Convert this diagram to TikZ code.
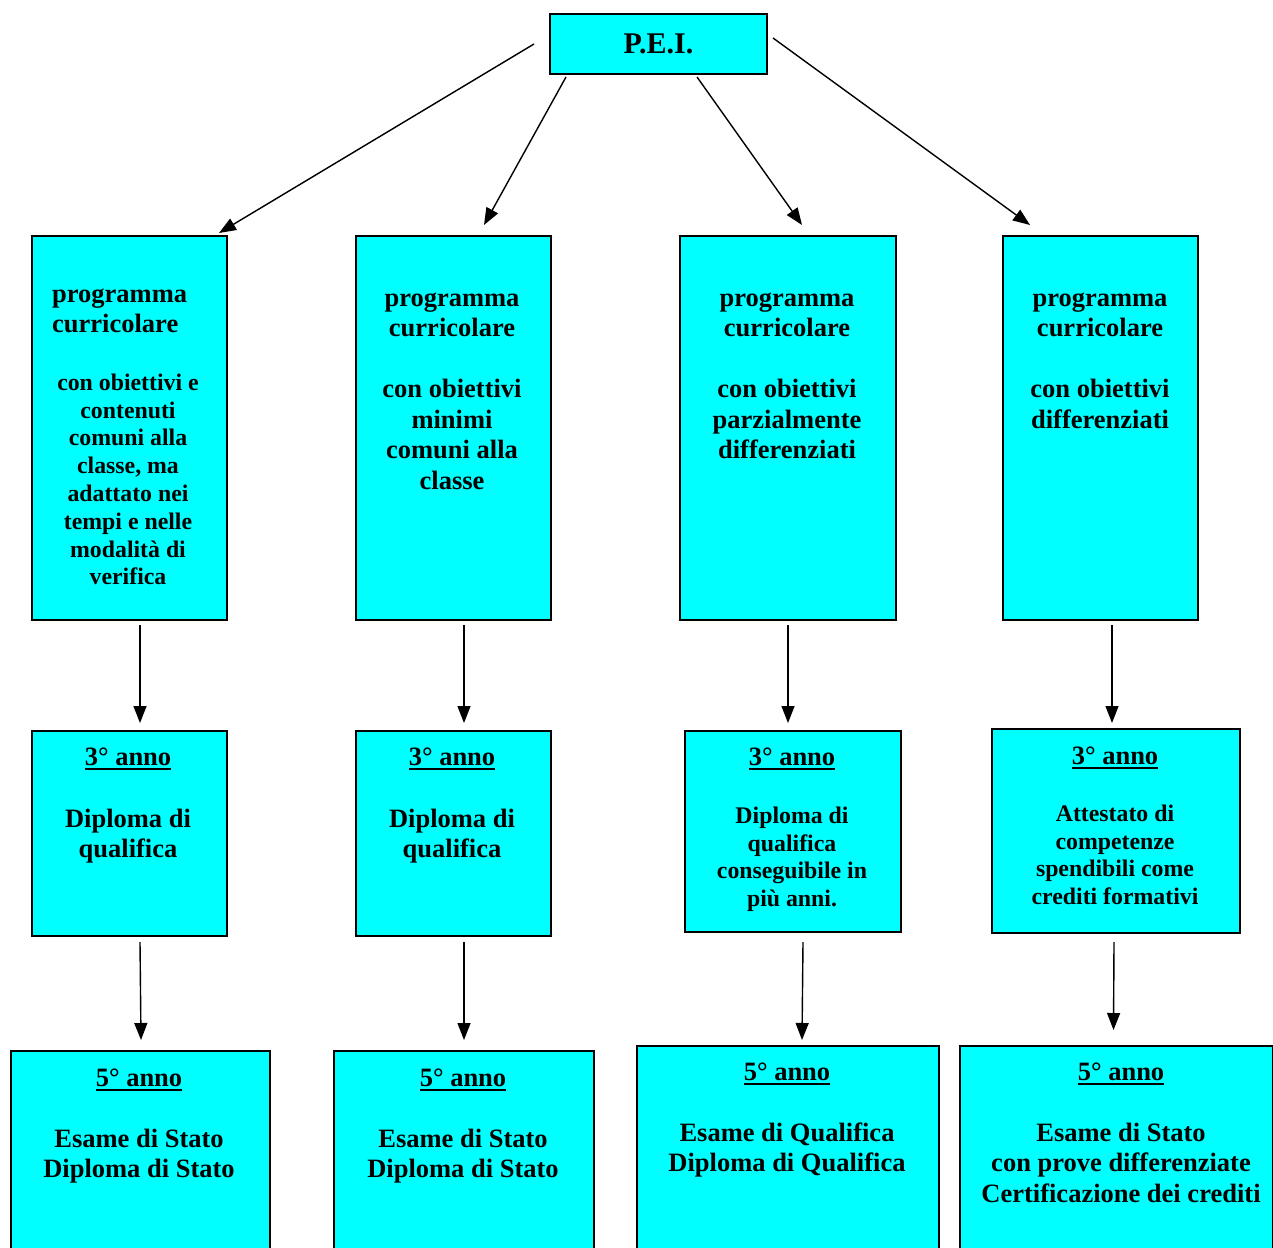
\documentclass[tikz,border=0pt]{standalone}
\usepackage{fontspec}
\setmainfont{Liberation Serif}
\usetikzlibrary{arrows.meta,calc}
\definecolor{aqua}{RGB}{0,255,255}
\newsavebox\annobox
\newcommand\annoul[1]{\sbox\annobox{#1}\makebox[0pt][l]{\rule[-4.5pt]{\wd\annobox}{2.2pt}}\usebox\annobox}
\newcommand\fsb{\rule{0pt}{24pt}}
\newcommand\fss{\rule{0pt}{22pt}}
\tikzset{
  box/.style={draw=black, line width=2pt, fill=aqua, rectangle, inner sep=0pt, anchor=north west},
  big/.style={font=\bfseries\fontsize{26.5}{30.5}\selectfont, align=center, inner sep=0pt, anchor=north, yshift=24pt},
  small/.style={font=\bfseries\fontsize{23.8}{27.8}\selectfont, align=center, inner sep=0pt, anchor=north, yshift=22pt},
  arr/.style={-{Triangle[length=17pt,width=13pt]}, line width=1.4pt},
}
\begin{document}
\begin{tikzpicture}[x=1pt,y=-1pt]
\useasboundingbox (0,0) rectangle (1273,1247);
\clip (0,0) rectangle (1273,1247);
% top
\node[box, minimum width=217, minimum height=60, font=\bfseries\fontsize{30}{34}\selectfont] (pei) at (549,13) {P.E.I.};
% row 1
\node[box, minimum width=195, minimum height=384] (b1) at (31,235) {};
\node[box, minimum width=195, minimum height=384] (b2) at (355,235) {};
\node[box, minimum width=216, minimum height=384] (b3) at (679,235) {};
\node[box, minimum width=195, minimum height=384] (b4) at (1002,235) {};
% row 2
\node[box, minimum width=195, minimum height=205] (c1) at (31,730) {};
\node[box, minimum width=195, minimum height=205] (c2) at (355,730) {};
\node[box, minimum width=216, minimum height=201] (c3) at (684,730) {};
\node[box, minimum width=248, minimum height=204] (c4) at (991,728) {};
% row 3
\node[box, minimum width=259, minimum height=260] (d1) at (10,1050) {};
\node[box, minimum width=260, minimum height=260] (d2) at (333,1050) {};
\node[box, minimum width=302, minimum height=260] (d3) at (636,1045) {};
\node[box, minimum width=313, minimum height=260] (d4) at (959,1045) {};
% texts row 1
\node[big, anchor=north west, align=left] (t1a) at (52,302) {\fsb programma\\curricolare};
\node[small] (t1b) at (128,390) {\fss con obiettivi e\\contenuti\\comuni alla\\classe, ma\\adattato nei\\tempi e nelle\\modalità di\\verifica};
\node[big] (t2) at (452,306) {\fsb programma\\curricolare\\[30.5pt]con obiettivi\\minimi\\comuni alla\\classe};
\node[big] (t3) at (787,306) {\fsb programma\\curricolare\\[30.5pt]con obiettivi\\parzialmente\\differenziati};
\node[big] (t4) at (1100,306) {\fsb programma\\curricolare\\[30.5pt]con obiettivi\\differenziati};
% texts row 2
\node[big] (h1) at (128,765) {\fsb\annoul{3° anno}};
\node[big] (u1) at (128,827) {\fsb Diploma di\\qualifica};
\node[big] (h2) at (452,765) {\fsb\annoul{3° anno}};
\node[big] (u2) at (452,827) {\fsb Diploma di\\qualifica};
\node[big] (h3) at (792,765) {\fsb\annoul{3° anno}};
\node[small] (u3) at (792,823) {\fss Diploma di\\qualifica\\conseguibile in\\più anni.};
\node[big] (h4) at (1115,764) {\fsb\annoul{3° anno}};
\node[small] (u4) at (1115,821) {\fss Attestato di\\competenze\\spendibili come\\crediti formativi};
% texts row 3
\node[big] (k1) at (139,1086) {\fsb\annoul{5° anno}};
\node[big] (v1) at (139,1147) {\fsb Esame di Stato\\Diploma di Stato};
\node[big] (k2) at (463,1086) {\fsb\annoul{5° anno}};
\node[big] (v2) at (463,1147) {\fsb Esame di Stato\\Diploma di Stato};
\node[big] (k3) at (787,1080) {\fsb\annoul{5° anno}};
\node[big] (v3) at (787,1141) {\fsb Esame di Qualifica\\Diploma di Qualifica};
\node[big] (k4) at (1121,1080) {\fsb\annoul{5° anno}};
\node[big] (v4) at (1121,1141) {\fsb Esame di Stato\\con prove differenziate\\Certificazione dei crediti};
% arrows from PEI
\draw[arr] ($(pei.west)+(-15,0)$) -- ($(b1.north east)+(-9,-2)$);
\draw[arr] ($(pei.south west)+(17,2)$) -- ($(b2.north)+(30.5,-10)$);
\draw[arr] ($(pei.south)+(38.5,2)$) -- ($(b3.north)+(14,-10)$);
\draw[arr] ($(pei.east)+(5,-6)$) -- ($(b4.north)+(-70.5,-10)$);
% vertical arrows
\draw[arr] ($(b1.south)+(10.5,4)$) -- ($(c1.north)+(10.5,-7)$);
\draw[arr] ($(c1.south)+(10.5,5)$) -- ($(d1.north)+(0.5,-10)$);
\draw[arr] ($(b2.south)+(10.5,4)$) -- ($(c2.north)+(10.5,-7)$);
\draw[arr] ($(c2.south)+(10.5,5)$) -- ($(d2.north)+(0,-10)$);
\draw[arr] ($(b3.south)+(0,4)$) -- ($(c3.north)+(-5,-7)$);
\draw[arr] ($(c3.south)+(10,9)$) -- ($(d3.north)+(14,-5)$);
\draw[arr] ($(b4.south)+(11.5,4)$) -- ($(c4.north)+(-4,-5)$);
\draw[arr] ($(c4.south)+(-2,8)$) -- ($(d4.north)+(-3,-15)$);
\end{tikzpicture}
\end{document}
